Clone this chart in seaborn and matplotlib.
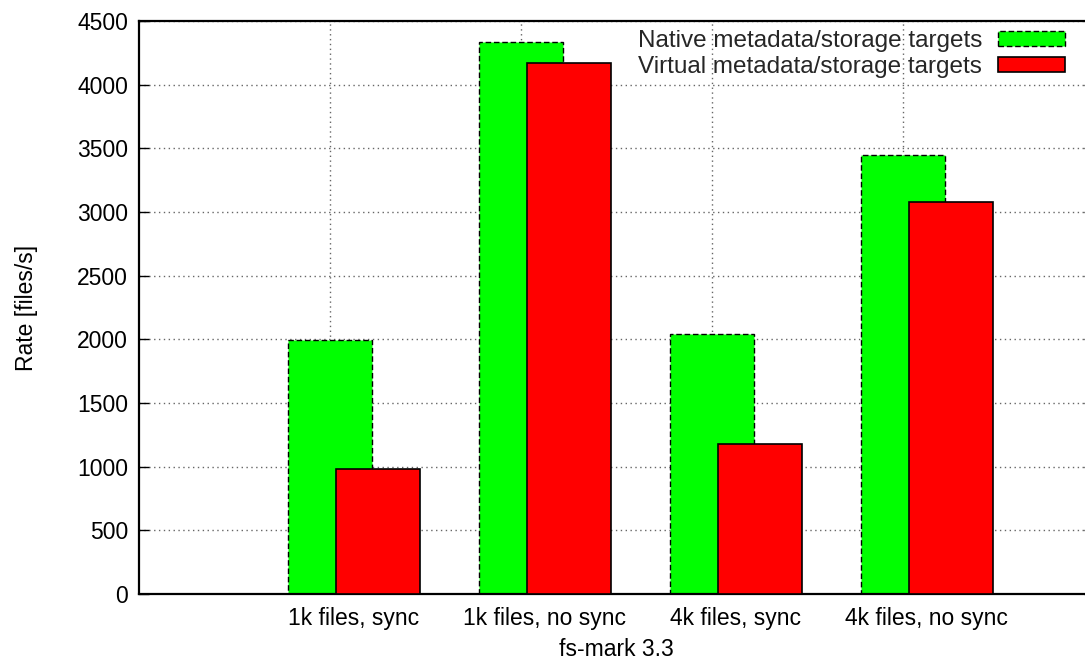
import numpy as np
import pandas as pd
import seaborn as sns
import matplotlib
matplotlib.use("Agg")
import matplotlib.pyplot as plt
from matplotlib.patches import Patch

# values
categories = ['1k files, sync', '1k files, no sync', '4k files, sync', '4k files, no sync']
native = [1995, 4335, 2040, 3450]
virtual = [982, 4170, 1175, 3075]
series = ['Native metadata/storage targets', 'Virtual metadata/storage targets']
yticks = [0, 500, 1000, 1500, 2000, 2500, 3000, 3500, 4000, 4500]

green = '#00ff00'
red = '#ff0000'
dash = (0, (4, 2))
fs = 16.5
legend_fs = 17.5

sns.set_theme(style='white')
plt.rcParams['font.family'] = ['Liberation Sans', 'DejaVu Sans']

fig = plt.figure(figsize=(10.85, 6.66), dpi=100)
ax = fig.add_axes([139 / 1085, 1 - 594 / 666, 955 / 1085, 573 / 666])

pos = np.arange(len(categories))
df_native = pd.DataFrame({'x': pos - 0.125, 'rate': native})
df_virtual = pd.DataFrame({'x': pos + 0.125, 'rate': virtual})

sns.barplot(data=df_native, x='x', y='rate', native_scale=True, width=0.44,
            color=green, saturation=1, edgecolor='black', linewidth=1,
            linestyle=dash, errorbar=None, ax=ax, zorder=2)
sns.barplot(data=df_virtual, x='x', y='rate', native_scale=True, width=0.44,
            color=red, saturation=1, edgecolor='black', linewidth=1.2,
            errorbar=None, ax=ax, zorder=3)

ax.set_xlim(-1.125, 3.875)
ax.set_ylim(0, 4500)
ax.set_xticks(pos, categories, fontsize=fs)
ax.set_xticks(pos - 0.125, minor=True)
ax.set_yticks(yticks, [str(v) for v in yticks], fontsize=fs)

ax.grid(which='minor', axis='x', linestyle=(0, (1, 2.5)), color='#666666', lw=1)
ax.grid(which='major', axis='y', linestyle=(0, (1, 2.5)), color='#666666', lw=1)
ax.grid(which='major', axis='x', visible=False)
ax.set_axisbelow(True)

ax.tick_params(axis='x', which='both', length=0, pad=9)
ax.tick_params(axis='y', direction='in', length=7, width=1, left=True, right=True,
               pad=8, colors='black')
ax.tick_params(axis='x', colors='black')

for s in ['left', 'bottom', 'top', 'right']:
    ax.spines[s].set_color('black')
    ax.spines[s].set_linewidth(1.6)

ax.set_xlabel('fs-mark 3.3', fontsize=fs, labelpad=6, color='black')
ax.set_ylabel('Rate [files/s]', fontsize=fs, labelpad=28, color='black')

handles = [Patch(facecolor=green, edgecolor='black', linestyle=dash, lw=1),
           Patch(facecolor=red, edgecolor='black', lw=1.2)]
fig.legend(handles, series, loc='upper right', bbox_to_anchor=(1065 / 1085, 1 - 30 / 666),
           frameon=False, markerfirst=False, fontsize=legend_fs, handlelength=2.75,
           handleheight=0.54, handletextpad=0.65, labelspacing=0.17,
           borderpad=0, borderaxespad=0)

fig.savefig('out.png', dpi=100)
